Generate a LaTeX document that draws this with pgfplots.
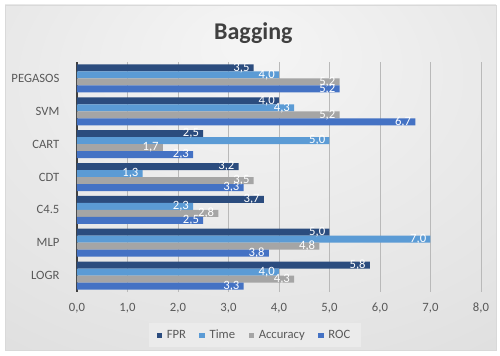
\documentclass[border=0pt]{standalone}
\usepackage{fontspec}
\setmainfont{Carlito}
\usepackage{pgfplots}
\usepackage{pgfplotstable}
\pgfplotsset{compat=1.18}

\definecolor{cFPR}{HTML}{2B4C7E}
\definecolor{cTime}{HTML}{5B9BD5}
\definecolor{cAcc}{HTML}{A5A5A5}
\definecolor{cROC}{HTML}{4472C4}
\definecolor{txt}{HTML}{595959}
\definecolor{ttl}{HTML}{404040}
\definecolor{bgin}{HTML}{F5F5F5}
\definecolor{bgmid}{HTML}{E4E4E4}
\definecolor{bgout}{HTML}{D0D0D0}
\definecolor{legbg}{HTML}{EBEBEB}

\pgfdeclareradialshading{chartbg}{\pgfpoint{0bp}{20bp}}{%
  color(0bp)=(bgin); color(35bp)=(bgmid); color(70bp)=(bgout); color(80bp)=(bgout)}

% classifier index: 0 LOGR, 1 MLP, 2 C4.5, 3 CDT, 4 CART, 5 SVM, 6 PEGASOS
\pgfplotstableread{
cat FPR Time Acc ROC
0   5.8 4.0  4.3 3.3
1   5.0 7.0  4.8 3.8
2   3.7 2.3  2.8 2.5
3   3.2 1.3  3.5 3.3
4   2.5 5.0  1.7 2.3
5   4.0 4.3  5.2 6.7
6   3.5 4.0  5.2 5.2
}\bagging

\begin{document}
\begin{tikzpicture}
  \path[use as bounding box, fill=white] (0,0) rectangle (375pt,267pt);
  \shade[shading=chartbg, draw=gray!30] (3.75pt,4.5pt) rectangle (372pt,263.25pt);

  \begin{axis}[
    at={(57.75pt,48pt)}, anchor=south west,
    scale only axis, width=303pt, height=172.5pt,
    xbar, bar width=5.25pt,
    xmin=0, xmax=8, ymin=-0.5, ymax=6.5,
    xtick={0,1,...,8},
    ytick={0,...,6},
    yticklabels={LOGR,MLP,C4.5,CDT,CART,SVM,PEGASOS},
    major tick length=0pt,
    separate axis lines,
    axis x line*=bottom, axis y line*=left,
    x axis line style={draw=none},
    y axis line style={draw=ttl, line width=0.9pt, -},
    xmajorgrids,
    grid style={draw=gray!55, line width=0.6pt},
    /pgf/number format/.cd, fixed, fixed zerofill, precision=1, use comma, assume math mode=true,
    /pgfplots/.cd,
    tick label style={font=\fontsize{9.5}{11}\selectfont, text=txt, inner sep=0pt},
    xticklabel shift=8pt,
    yticklabel shift=13pt,
    point meta=x,
    nodes near coords,
    nodes near coords style={anchor=east, text=white, inner sep=0pt, xshift=-3pt,
      font=\fontsize{9.5}{11}\selectfont},
    legend columns=4,
    legend style={at={(0.44,-0.189)}, anchor=center, draw=none, fill=legbg,
      font=\fontsize{9.5}{11}\selectfont, text=txt, inner xsep=6pt, inner ysep=3pt,
      /tikz/every odd column/.append style={column sep=1.5pt},
      /tikz/every even column/.append style={column sep=8pt}},
    legend image code/.code={\fill[#1] (0pt,-2.1pt) rectangle (4.2pt,2.1pt);},
  ]
    \addplot[fill=cFPR,  draw=none, bar shift=7.875pt]  table[x=FPR,  y=cat] {\bagging};
    \addplot[fill=cTime, draw=none, bar shift=2.625pt]  table[x=Time, y=cat] {\bagging};
    \addplot[fill=cAcc,  draw=none, bar shift=-2.625pt] table[x=Acc,  y=cat] {\bagging};
    \addplot[fill=cROC,  draw=none, bar shift=-7.875pt] table[x=ROC,  y=cat] {\bagging};
    \legend{FPR, Time, Accuracy, ROC}
  \end{axis}

  \node[anchor=base, font=\fontsize{18}{20}\selectfont\bfseries, text=ttl] at (190pt,237pt) {Bagging};
\end{tikzpicture}
\end{document}
